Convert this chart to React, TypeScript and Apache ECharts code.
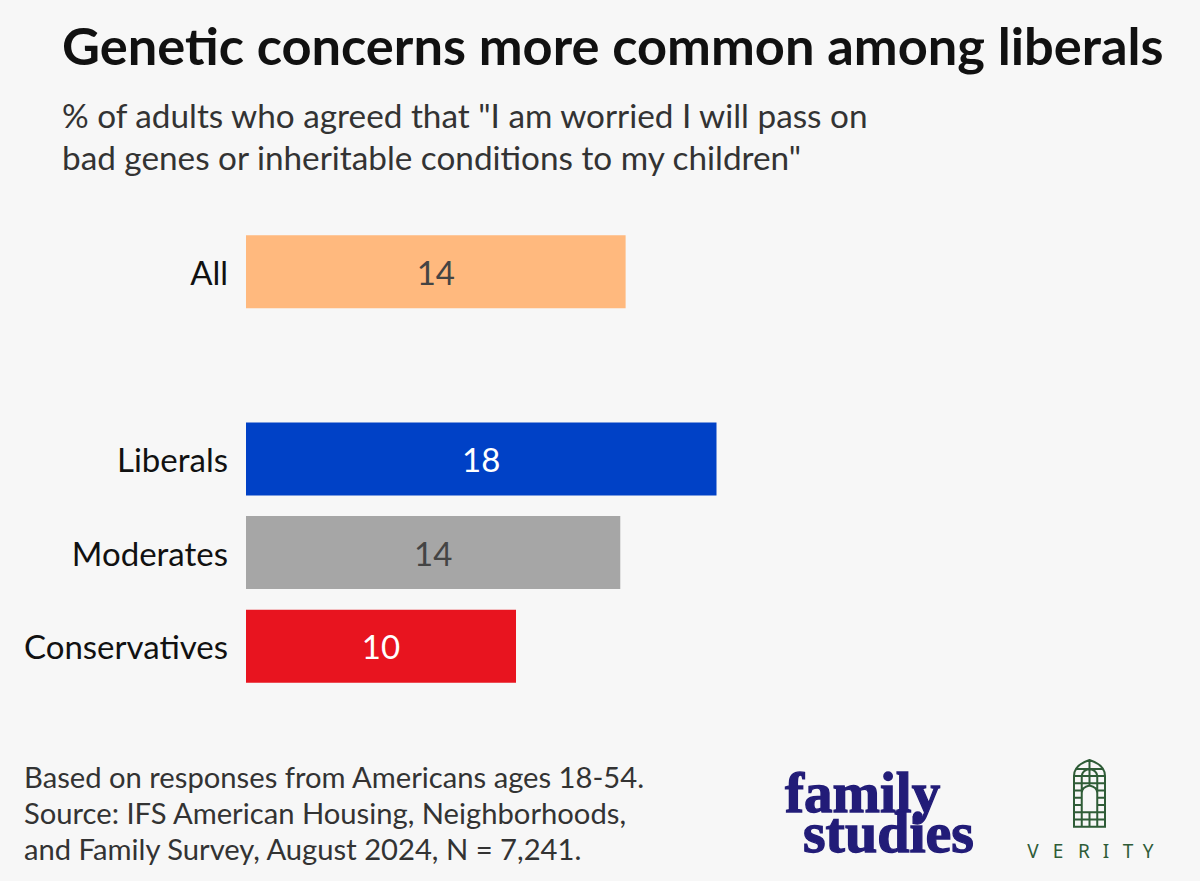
import React, { useEffect, useRef } from "react";
import * as echarts from "echarts";

// ---------- data ----------
const CATEGORIES = ["All", "", "Liberals", "Moderates", "Conservatives"];
const VALUES: (number | null)[] = [14.2, null, 17.6, 14.0, 10.1];

const TITLE = "Genetic concerns more common among liberals";
const SUBTITLE_LINES = [
  "% of adults who agreed that \"I am worried I will pass on",
  "bad genes or inheritable conditions to my children\"",
];
const NOTE_LINES = [
  "Based on responses from Americans ages 18-54.",
  "Source: IFS American Housing, Neighborhoods,",
  "and Family Survey, August 2024, N = 7,241.",
];
const LOGO_LINES = ["family", "studies"];
const VERITY_LETTERS = ["V", "E", "R", "I", "T", "Y"];

// ---------- styles ----------
const BAR_COLORS = ["#FFB97E", "transparent", "#0041C6", "#A6A6A6", "#E8141F"];
const LABEL_COLORS = ["#444444", "#444444", "#FFFFFF", "#444444", "#FFFFFF"];
const BG = "#F7F7F7";
const GREEN = "#2F5C37";
const NAVY = "#221C78";

const ICON_D = [
  "M0,16 Q0,5 15.5,0 Q31,5 31,16 L31,66.7 L0,66.7 Z",
  "M0,16 L31,16",
  "M0,23.24 L31,23.24",
  "M0,30.5 L7.75,30.5 M23.25,30.5 L31,30.5",
  "M0,37.7 L7.75,37.7 M23.25,37.7 L31,37.7",
  "M0,45 L7.75,45 M23.25,45 L31,45",
  "M0,52.2 L31,52.2",
  "M0,59.5 L31,59.5",
  "M7.75,16 L7.75,66.7",
  "M23.25,16 L23.25,66.7",
  "M15.5,0 L15.5,25.5",
  "M15.5,52.2 L15.5,66.7",
  "M7.75,33 Q7.75,27 15.5,25.5 Q23.25,27 23.25,33",
  "M1.9,9 L29.1,9",
  "M7.75,16 Q8.5,10 15.5,9 Q22.5,10 23.25,16",
].join(" ");

echarts.graphic.registerShape("verityIcon", echarts.graphic.extendPath(ICON_D, {}));

const VERITY_X = [1033, 1058, 1084, 1106, 1128, 1148];

export default function App() {
  const ref = useRef<HTMLDivElement>(null);

  useEffect(() => {
    document.body.style.margin = "0";
    const chart = echarts.init(ref.current!, null, { renderer: "svg" });

    const data = VALUES.map((v, i) =>
      v == null
        ? "-"
        : {
            value: v,
            itemStyle: { color: BAR_COLORS[i] },
            label: { color: LABEL_COLORS[i] },
          }
    );

    const graphic: any[] = [
      {
        type: "text",
        x: 62,
        y: 44,
        style: {
          text: TITLE,
          font: "bold 52.4px Lato",
          fill: "#111111",
          textAlign: "left",
          textVerticalAlign: "middle",
        },
      },
      ...SUBTITLE_LINES.map((t, i) => ({
        type: "text",
        x: 62,
        y: 115 + i * 42,
        style: {
          text: t,
          font: "33.3px Lato",
          fill: "#333333",
          textAlign: "left",
          textVerticalAlign: "middle",
        },
      })),
      ...NOTE_LINES.map((t, i) => ({
        type: "text",
        x: 24,
        y: 776 + i * 36,
        style: {
          text: t,
          font: "29.2px Lato",
          fill: "#333333",
          textAlign: "left",
          textVerticalAlign: "middle",
        },
      })),
      {
        type: "text",
        x: 785,
        y: 772,
        style: {
          text: `{a|${LOGO_LINES[0]}}\n{b|${LOGO_LINES[1]}}`,
          textAlign: "left",
          textVerticalAlign: "top",
          rich: {
            a: {
              font: "bold 57px 'Liberation Serif'",
              lineHeight: 40,
              fill: NAVY,
              stroke: NAVY,
              lineWidth: 1.3,
            },
            b: {
              font: "bold 58px 'Liberation Serif'",
              lineHeight: 40,
              fill: NAVY,
              stroke: NAVY,
              lineWidth: 1.3,
              padding: [0, 0, 0, 18],
            },
          },
        },
      },
      {
        type: "verityIcon",
        x: 1074,
        y: 760,
        style: { fill: "none", stroke: GREEN, lineWidth: 2 },
      },
      ...VERITY_LETTERS.map((ch, i) => ({
        type: "text",
        x: VERITY_X[i],
        y: 851,
        style: {
          text: ch,
          font: "19px 'Noto Sans'",
          fill: GREEN,
          textAlign: "center",
          textVerticalAlign: "middle",
        },
      })),
    ];

    chart.setOption({
      animation: false,
      backgroundColor: BG,
      grid: { left: 246, top: 225, width: 802, height: 468, containLabel: false },
      xAxis: {
        type: "value",
        min: 0,
        max: 30,
        show: false,
        splitLine: { show: false },
      },
      yAxis: {
        type: "category",
        data: CATEGORIES,
        inverse: true,
        axisLine: { show: false },
        axisTick: { show: false },
        axisLabel: {
          fontSize: 33,
          fontFamily: "Lato",
          color: "#111111",
          margin: 18,
        },
      },
      series: [
        {
          type: "bar",
          data,
          barWidth: 73,
          label: {
            show: true,
            position: "inside",
            fontSize: 33,
            fontFamily: "Lato",
            formatter: (p: any) => String(Math.round(p.value)),
          },
        },
      ],
      graphic,
    });

    return () => chart.dispose();
  }, []);

  return (
    <div
      ref={ref}
      style={{ position: "absolute", left: 0, top: 0, width: 1200, height: 881 }}
    />
  );
}
